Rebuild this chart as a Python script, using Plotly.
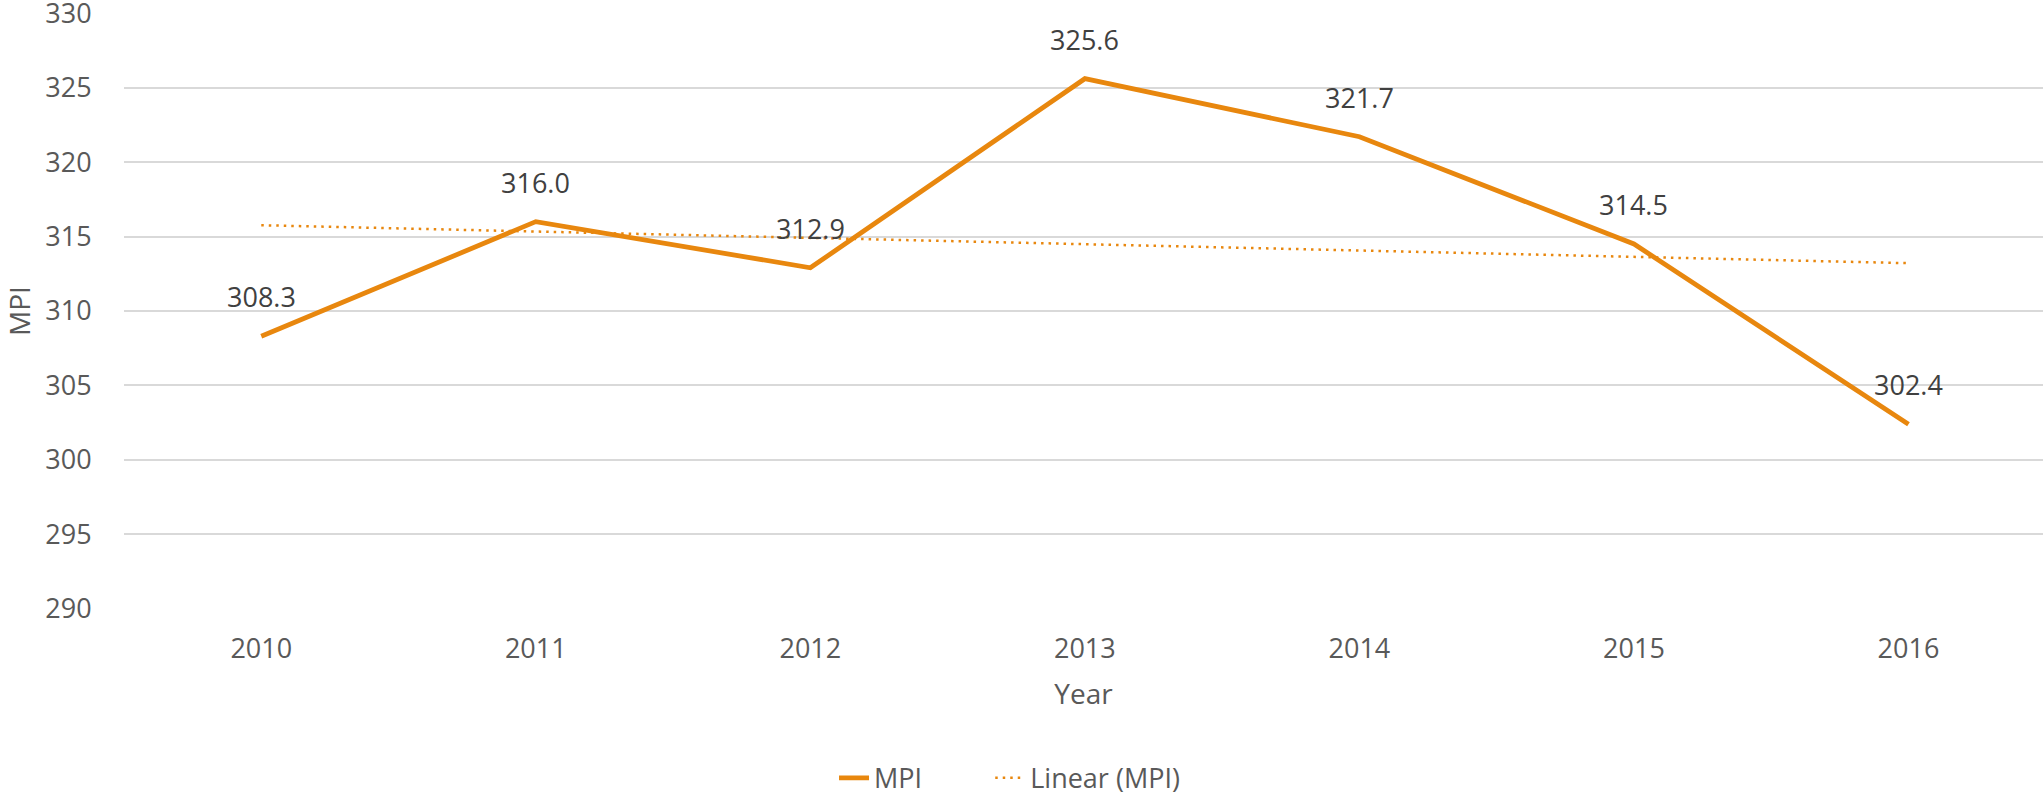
import numpy as np
import plotly.graph_objects as go

years = ["2010", "2011", "2012", "2013", "2014", "2015", "2016"]
mpi = [308.3, 316.0, 312.9, 325.6, 321.7, 314.5, 302.4]
y_ticks = [290, 295, 300, 305, 310, 315, 320, 325, 330]

ORANGE = "#E8870E"
FONT = "Open Sans"

# Linear trendline (least squares fit of the MPI series, as in the source chart)
xi = np.arange(len(mpi))
slope, intercept = np.polyfit(xi, mpi, 1)
trend = list(slope * xi + intercept)

fig = go.Figure()
fig.add_trace(go.Scatter(
    x=years, y=mpi, mode="lines", name="MPI" + "\u00a0" * 9,
    line=dict(color=ORANGE, width=4.8),
))
fig.add_trace(go.Scatter(
    x=years, y=trend, mode="lines", name="Linear (MPI)",
    line=dict(color=ORANGE, width=2.5, dash="2.5px,5px"),
))

for i, v in enumerate(mpi):
    fig.add_annotation(
        x=i, y=v, xref="x", yref="y", text=f"{v:.1f}", showarrow=False,
        yshift=39.5, font=dict(family=FONT, size=27, color="#404040"),
    )

fig.update_layout(
    width=2043, height=796,
    margin=dict(l=124, r=0, t=13, b=187, autoexpand=False),
    paper_bgcolor="white", plot_bgcolor="white",
    font=dict(family=FONT, color="#595959"),
    showlegend=True,
    legend=dict(
        orientation="h", x=0.370, xanchor="left", y=-0.284, yanchor="middle",
        font=dict(family=FONT, size=27, color="#595959"),
    ),
)
fig.update_xaxes(
    type="category", range=[-0.5, 6.49], automargin=False,
    showgrid=False, showline=False, zeroline=False,
    ticks="outside", ticklen=16, tickcolor="rgba(0,0,0,0)",
    tickfont=dict(family=FONT, size=27, color="#595959"),
    title=dict(text="Year", font=dict(family=FONT, size=28, color="#595959"), standoff=18),
)
fig.update_yaxes(
    range=[289.99, 330.01], tickvals=y_ticks, automargin=False,
    ticklabeloverflow="allow",
    showgrid=True, gridcolor="#D9D9D9", gridwidth=1.5,
    showline=False, zeroline=False,
    ticks="outside", ticklen=26, tickcolor="rgba(0,0,0,0)",
    tickfont=dict(family=FONT, size=27, color="#595959"),
    title=dict(text="MPI", font=dict(family=FONT, size=28, color="#595959"), standoff=10),
)

fig.write_html(
    "out.html",
    config={"displayModeBar": False},
    post_script="document.body.style.margin='0';document.body.style.overflow='hidden';",
)
